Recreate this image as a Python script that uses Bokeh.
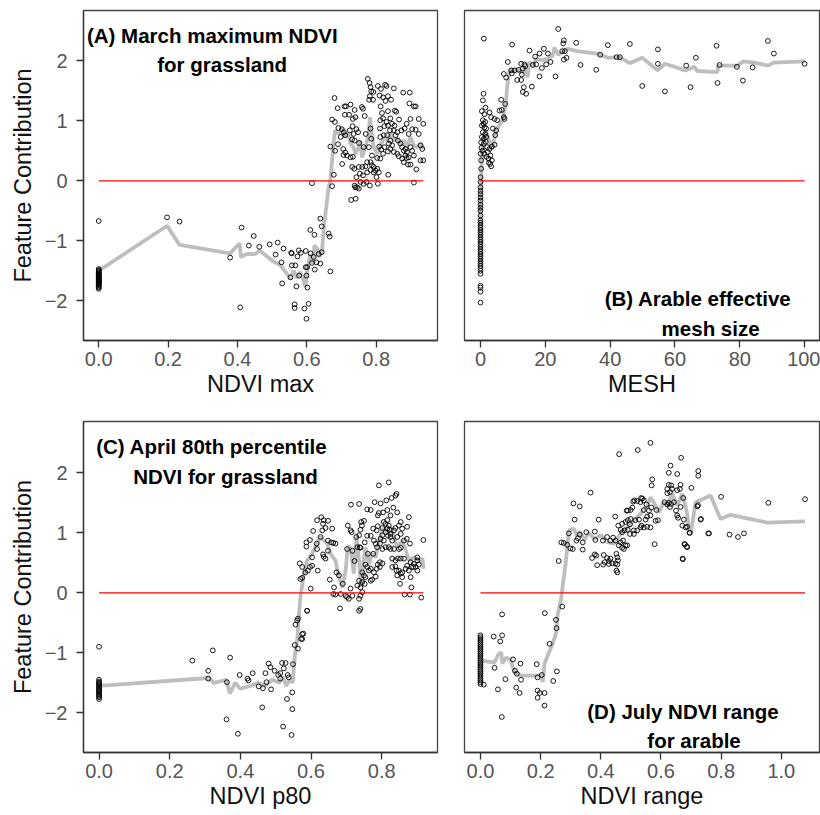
from bokeh.plotting import figure
from bokeh.layouts import gridplot
from bokeh.models import Range1d, FixedTicker, Label
from bokeh.embed import file_html
from bokeh.resources import INLINE

# ---------------- Panel A: March maximum NDVI for grassland ----------------
a_points = [
    (0, -0.67), (0, -1.47), (0, -1.49), (0, -1.50), (0, -1.52), (0, -1.53), (0, -1.55), (0, -1.56),
    (0, -1.57), (0, -1.58), (0, -1.59), (0, -1.60), (0, -1.61), (0, -1.62), (0, -1.63), (0, -1.64),
    (0, -1.65), (0, -1.66), (0, -1.67), (0, -1.68), (0, -1.69), (0, -1.70), (0, -1.71), (0, -1.72),
    (0, -1.73), (0, -1.74), (0, -1.76), (0, -1.78), (0, -1.80),
    (0.197, -0.61), (0.233, -0.68), (0.379, -1.28), (0.408, -2.11), (0.412, -0.78), (0.433, -1.08),
    (0.447, -0.92), (0.463, -1.10), (0.493, -1.06), (0.516, -1.03), (0.510, -1.23), (0.533, -1.13),
    (0.527, -1.36), (0.529, -1.71), (0.555, -1.20), (0.557, -1.21), (0.577, -1.16), (0.583, -1.20),
    (0.597, -1.17), (0.573, -1.26), (0.557, -1.41), (0.567, -1.41), (0.553, -1.61), (0.578, -1.58),
    (0.599, -1.58), (0.597, -1.44), (0.570, -1.76), (0.602, -1.78), (0.639, -0.63), (0.643, -0.76),
    (0.610, -0.82), (0.622, -0.90), (0.663, -0.88), (0.666, -0.93), (0.611, -1.21), (0.620, -1.27),
    (0.634, -1.22), (0.643, -1.19), (0.615, -1.37), (0.628, -1.36), (0.639, -1.38), (0.623, -1.48),
    (0.601, -1.44), (0.565, -2.06), (0.565, -2.12), (0.593, -2.13), (0.605, -2.05), (0.599, -2.30),
    (0.668, -1.51), (0.615, -0.04),
    (0.776, 1.70), (0.781, 1.63), (0.784, 1.56), (0.786, 1.49), (0.792, 1.48), (0.782, 1.41),
    (0.791, 1.35), (0.780, 1.35), (0.805, 1.58), (0.814, 1.53), (0.826, 1.60), (0.830, 1.58),
    (0.851, 1.54), (0.810, 1.42), (0.820, 1.39), (0.834, 1.41), (0.843, 1.35), (0.827, 1.33),
    (0.878, 1.47), (0.897, 1.47), (0.896, 1.29), (0.909, 1.24), (0.914, 1.24), (0.680, 1.38),
    (0.689, 1.21), (0.709, 1.24), (0.713, 1.24), (0.726, 1.27), (0.738, 1.18), (0.759, 1.23),
    (0.762, 1.20), (0.710, 1.10), (0.722, 1.10), (0.733, 1.03), (0.740, 1.06), (0.767, 1.08),
    (0.673, 1.02), (0.681, 0.98), (0.691, 0.88), (0.701, 0.86), (0.707, 0.81), (0.698, 0.73),
    (0.711, 0.76), (0.724, 0.84), (0.732, 0.91), (0.743, 0.86), (0.735, 0.78), (0.748, 0.81),
    (0.731, 0.69), (0.738, 0.67), (0.751, 0.63), (0.784, 0.87), (0.770, 0.78), (0.786, 0.70),
    (0.813, 1.24), (0.817, 1.13), (0.834, 1.16), (0.820, 1.04), (0.812, 1.01), (0.830, 0.98),
    (0.841, 1.04), (0.854, 1.17), (0.858, 1.15), (0.866, 1.02), (0.824, 0.91), (0.834, 0.92),
    (0.846, 0.95), (0.853, 0.92), (0.811, 0.87), (0.840, 0.84), (0.851, 0.84), (0.861, 0.81),
    (0.873, 0.84), (0.888, 0.95), (0.899, 1.03), (0.923, 1.03), (0.936, 0.95), (0.882, 0.87),
    (0.904, 0.86), (0.914, 0.85), (0.894, 0.78), (0.923, 0.78), (0.928, 0.59), (0.933, 0.53),
    (0.936, 0.34), (0.928, 0.34), (0.916, 0.19), (0.812, 0.73), (0.822, 0.76), (0.832, 0.76),
    (0.841, 0.67), (0.837, 0.62), (0.846, 0.59), (0.856, 0.76), (0.863, 0.67), (0.870, 0.62),
    (0.875, 0.56), (0.880, 0.50), (0.885, 0.53), (0.889, 0.48), (0.899, 0.56), (0.904, 0.50),
    (0.909, 0.42), (0.894, 0.39), (0.885, 0.42), (0.875, 0.37), (0.861, 0.45), (0.851, 0.48),
    (0.841, 0.53), (0.824, 0.56), (0.815, 0.52), (0.809, 0.57), (0.820, 0.45), (0.834, 0.49),
    (0.865, 0.41), (0.880, 0.31), (0.892, 0.27), (0.899, 0.27), (0.888, 0.38), (0.668, 0.57),
    (0.682, 0.50), (0.690, 0.61), (0.705, 0.53), (0.711, 0.47), (0.706, 0.43), (0.716, 0.42),
    (0.726, 0.39), (0.733, 0.40), (0.702, 0.28), (0.731, 0.23), (0.737, 0.20), (0.750, 0.23),
    (0.760, 0.23), (0.769, 0.24), (0.774, 0.31), (0.784, 0.31), (0.788, 0.26), (0.793, 0.23),
    (0.798, 0.17), (0.803, 0.20), (0.808, 0.14), (0.784, 0.18), (0.793, 0.14), (0.801, 0.06),
    (0.774, 0.14), (0.762, 0.09), (0.753, 0.12), (0.743, 0.06), (0.755, -0.02), (0.764, -0.05),
    (0.772, -0.02), (0.782, -0.08), (0.738, -0.08), (0.745, -0.11), (0.750, -0.13), (0.740, -0.11),
    (0.728, -0.32), (0.741, -0.30), (0.678, 0.10), (0.673, -0.09), (0.805, -0.05), (0.835, 0.10),
    (0.909, -0.03), (0.764, 0.56), (0.779, 0.56), (0.788, 0.42), (0.803, 0.38), (0.812, 0.37),
]
a_line = [
    (0, -1.50), (0.197, -0.75), (0.233, -1.07), (0.379, -1.21), (0.406, -1.04), (0.410, -1.27),
    (0.427, -1.22), (0.451, -1.22), (0.464, -1.16), (0.500, -1.33), (0.524, -1.41), (0.543, -1.55),
    (0.553, -1.63), (0.562, -1.50), (0.572, -1.62), (0.581, -1.52), (0.591, -1.66), (0.596, -1.77),
    (0.601, -1.50), (0.610, -1.22), (0.618, -1.38), (0.622, -1.08), (0.630, -1.13), (0.637, -1.27),
    (0.644, -1.16), (0.650, -0.72), (0.656, -0.45), (0.662, -0.15), (0.668, 0.01), (0.673, 0.34),
    (0.678, 0.67), (0.682, 0.84), (0.692, 0.78), (0.702, 0.87), (0.711, 0.73), (0.721, 0.78),
    (0.726, 0.62), (0.735, 0.56), (0.740, 0.45), (0.750, 0.56), (0.755, 0.67), (0.759, 0.39),
    (0.769, 0.56), (0.779, 0.78), (0.782, 1.06), (0.786, 0.84), (0.793, 0.56), (0.803, 0.45),
    (0.812, 0.56), (0.822, 0.73), (0.832, 0.67), (0.841, 0.78), (0.851, 0.67), (0.861, 0.70),
    (0.870, 0.62), (0.880, 0.67), (0.889, 0.56), (0.899, 0.73), (0.909, 0.59), (0.918, 0.56),
    (0.928, 0.62), (0.937, 0.53),
]
a_xticks = [0.0, 0.2, 0.4, 0.6, 0.8]
a_xlabels = ["0.0", "0.2", "0.4", "0.6", "0.8"]

# ---------------- Panel B: Arable effective mesh size ----------------
b_points = [
    (0, 0.06), (0, -0.02), (0, -0.11), (0, -0.17), (0, -0.22), (0, -0.28), (0, -0.33), (0, -0.40),
    (0, -0.45), (0, -0.50), (0, -0.58), (0, -0.66), (0, -0.70), (0, -0.74), (0, -0.78), (0, -0.82),
    (0, -0.86), (0, -0.90), (0, -0.94), (0, -0.98), (0, -1.02), (0, -1.06), (0, -1.10), (0, -1.14),
    (0, -1.18), (0, -1.22), (0, -1.26), (0, -1.30), (0, -1.34), (0, -1.38), (0, -1.42), (0, -1.46),
    (0, -1.50), (0, -1.55), (0, -1.75), (0, -1.78), (0, -1.85), (0, -2.03),
    (0, 0.45), (0.2, 0.34), (0.2, 0.20), (0.2, 0.64), (0.41, 0.73), (0.41, 0.92), (0.41, 1.16),
    (0.72, 1.34), (0.93, 1.45), (1.03, 2.37), (1.54, 1.22), (2.78, 1.14), (1.23, 1.11), (3.29, 1.06),
    (4.32, 1.03), (0.72, 1.01), (1.44, 0.98), (1.23, 0.89), (1.75, 0.87), (0.72, 0.81), (1.44, 0.78),
    (1.03, 0.70), (1.75, 0.73), (1.03, 0.62), (2.05, 0.56), (2.78, 0.53), (3.50, 0.57), (4.32, 0.60),
    (3.81, 0.87), (4.83, 0.84), (4.53, 0.76), (2.26, 0.48), (3.08, 0.42), (2.47, 0.37), (3.50, 0.34),
    (3.29, 0.24), (0.3, 0.55), (0.6, 0.50), (1.2, 0.45), (1.8, 0.40), (2.6, 0.30), (3.0, 0.28),
    (0.9, 0.95), (1.6, 0.65),
    (5.14, 1.01), (5.86, 1.17), (6.38, 1.35), (7.20, 1.06), (7.40, 1.03), (6.58, 1.18), (7.61, 1.28),
    (7.20, 1.78), (7.92, 1.72), (9.46, 1.84), (9.67, 1.79), (8.43, 1.98), (9.77, 2.27), (10.49, 1.84),
    (11.73, 1.85), (11.32, 1.68), (12.55, 1.68), (12.76, 1.77), (13.06, 1.87), (13.58, 1.94),
    (12.55, 1.95), (13.37, 1.56), (13.06, 1.48), (14.09, 1.45), (13.78, 1.91), (15.12, 2.17),
    (15.84, 1.57), (16.15, 1.93), (16.87, 2.07), (17.18, 1.94), (18.21, 2.12), (18.21, 1.74),
    (18.93, 1.88), (19.55, 2.20), (20.26, 1.94), (20.78, 2.12), (21.60, 1.98), (23.15, 1.74),
    (23.97, 2.53), (25.72, 2.34), (25.52, 2.29), (25.21, 2.16), (26.03, 2.16), (25.72, 2.02),
    (26.54, 2.05), (29.53, 2.30), (30.86, 1.93), (35.70, 1.85), (36.93, 2.10), (39.30, 2.26),
    (41.98, 2.06), (43.00, 2.06), (46.09, 2.28), (49.90, 1.58), (54.73, 2.19), (54.73, 1.95),
    (56.89, 1.49), (63.48, 1.92), (64.81, 1.56), (66.46, 2.05), (72.84, 2.25), (73.15, 1.63),
    (73.76, 1.93), (79.11, 1.90), (80.97, 1.67), (83.95, 1.89), (88.68, 2.33), (90.53, 2.12),
    (100.0, 1.95),
]
b_line = [
    (0, -1.40), (0, -0.60), (0.2, 0.05), (0.5, 0.45), (0.9, 0.70), (1.5, 0.85), (2.2, 0.75),
    (3.0, 0.62), (3.6, 0.52), (4.3, 0.73), (5.35, 0.89), (6.9, 1.01), (7.9, 1.34), (8.2, 1.56),
    (8.95, 1.84), (11.5, 1.85), (13.0, 1.80), (14.1, 1.89), (14.5, 1.72), (15.1, 1.98), (16.2, 1.92),
    (17.2, 2.03), (18.7, 2.01), (20.8, 2.03), (22.3, 2.09), (22.8, 2.22), (24.0, 2.10), (26.8, 2.20),
    (29.8, 2.16), (36.0, 2.12), (39.3, 2.05), (42.7, 2.06), (46.1, 1.96), (49.9, 2.05), (54.6, 1.84),
    (56.9, 1.95), (63.3, 1.84), (65.9, 1.90), (66.9, 1.83), (73.1, 1.81), (73.3, 1.92), (79.2, 1.92),
    (81.1, 1.99), (84.4, 1.97), (88.7, 1.92), (90.5, 1.97), (100.0, 1.99),
]
b_xticks = [0, 20, 40, 60, 80, 100]
b_xlabels = ["0", "20", "40", "60", "80", "100"]

# ---------------- Panel C: April 80th percentile NDVI for grassland ----------------
c_points = [
    (0, -0.90), (0, -1.45), (0, -1.48), (0, -1.50), (0, -1.52), (0, -1.54), (0, -1.56), (0, -1.58),
    (0, -1.60), (0, -1.62), (0, -1.64), (0, -1.66), (0, -1.68), (0, -1.70), (0, -1.72), (0, -1.74),
    (0, -1.77),
    (0.264, -1.13), (0.309, -1.30), (0.309, -1.43), (0.322, -0.96), (0.371, -1.08), (0.362, -1.49),
    (0.361, -2.11), (0.393, -2.35), (0.398, -1.37), (0.420, -1.43), (0.423, -1.46), (0.435, -1.34),
    (0.452, -1.56), (0.464, -1.59), (0.462, -1.91), (0.471, -1.34), (0.474, -1.49), (0.480, -1.18),
    (0.485, -1.24), (0.487, -1.61), (0.497, -1.30), (0.507, -1.37), (0.513, -1.34), (0.518, -1.17),
    (0.523, -1.26), (0.513, -1.43), (0.528, -1.17), (0.534, -1.37), (0.537, -1.41), (0.521, -2.23),
    (0.532, -1.77), (0.547, -1.66), (0.547, -1.94), (0.545, -2.37), (0.549, -1.19), (0.554, -0.87),
    (0.563, -0.93), (0.561, -0.46), (0.575, -0.77), (0.575, -0.69), (0.589, -0.30),
    (0.792, 1.79), (0.820, 1.84), (0.842, 1.65), (0.839, 1.62), (0.828, 1.58), (0.813, 1.54),
    (0.797, 1.49), (0.780, 1.51), (0.713, 1.47), (0.736, 1.48), (0.759, 1.39), (0.769, 1.38),
    (0.833, 1.42), (0.816, 1.38), (0.804, 1.34), (0.792, 1.33), (0.789, 1.29), (0.844, 1.34),
    (0.825, 1.29), (0.617, 1.21), (0.629, 1.26), (0.636, 1.21), (0.648, 1.20), (0.634, 1.15),
    (0.641, 1.08), (0.632, 1.04), (0.660, 1.07), (0.606, 1.03), (0.587, 0.84), (0.597, 0.88),
    (0.587, 0.77), (0.616, 0.82), (0.617, 0.73), (0.627, 0.93), (0.648, 0.87), (0.657, 0.84),
    (0.663, 0.83), (0.669, 0.82), (0.648, 0.70), (0.634, 0.64), (0.641, 0.57), (0.636, 0.60),
    (0.603, 0.59), (0.597, 0.43), (0.603, 0.45), (0.568, 0.49), (0.575, 0.43), (0.584, 0.34),
    (0.591, 0.37), (0.619, 0.37), (0.570, 0.23), (0.575, 0.25), (0.599, 0.07), (0.589, -0.30),
    (0.563, -0.43), (0.556, -0.53), (0.578, -0.68), (0.572, -0.77), (0.653, 0.22), (0.665, 0.09),
    (0.663, -0.02), (0.690, 0.15), (0.684, -0.02), (0.682, -0.26), (0.672, 0.34), (0.679, 0.29),
    (0.702, 0.73), (0.717, 0.70), (0.723, 0.53), (0.704, 1.12), (0.712, 1.04), (0.715, 1.01),
    (0.728, 0.93), (0.736, 0.96), (0.740, 1.05), (0.744, 1.12), (0.750, 1.20), (0.742, 1.18),
    (0.738, 0.76), (0.752, 0.84), (0.740, 0.75), (0.731, 0.76), (0.759, 0.95), (0.769, 0.95),
    (0.761, 0.65), (0.776, 0.65), (0.754, 0.47), (0.759, 0.43), (0.764, 0.37), (0.769, 0.40),
    (0.745, 0.34), (0.750, 0.29), (0.754, 0.26), (0.736, 0.20), (0.745, 0.18), (0.752, 0.15),
    (0.740, 0.09), (0.731, 0.12), (0.712, 0.07), (0.698, -0.05), (0.702, -0.07), (0.707, -0.10),
    (0.717, -0.05), (0.740, -0.05), (0.736, -0.10), (0.745, 0.01), (0.740, -0.27), (0.736, -0.30),
    (0.669, -0.03), (0.778, 0.87), (0.783, 0.82), (0.787, 0.76), (0.795, 0.82), (0.797, 0.90),
    (0.802, 0.96), (0.776, 1.07), (0.786, 1.04), (0.789, 1.11), (0.802, 1.08), (0.806, 1.18),
    (0.811, 1.15), (0.816, 1.21), (0.820, 1.12), (0.816, 1.07), (0.823, 1.05), (0.825, 0.98),
    (0.811, 1.01), (0.818, 0.95), (0.825, 0.93), (0.835, 1.04), (0.839, 1.08), (0.830, 0.87),
    (0.806, 0.87), (0.802, 0.73), (0.811, 0.76), (0.820, 0.76), (0.825, 0.73), (0.835, 0.73),
    (0.849, 0.73), (0.854, 0.75), (0.854, 1.18), (0.849, 1.12), (0.858, 1.07), (0.854, 0.98),
    (0.844, 0.93), (0.863, 0.87), (0.871, 0.90), (0.872, 1.10), (0.877, 1.26), (0.880, 0.82),
    (0.795, 0.51), (0.789, 0.47), (0.802, 0.49), (0.795, 0.43), (0.786, 0.40), (0.778, 0.34),
    (0.783, 0.27), (0.769, 0.20), (0.773, 0.22), (0.882, 0.51), (0.891, 0.48), (0.901, 0.54),
    (0.896, 0.43), (0.901, 0.37), (0.889, 0.43), (0.905, 0.47), (0.830, 0.57), (0.839, 0.54),
    (0.846, 0.57), (0.854, 0.57), (0.863, 0.57), (0.830, 0.43), (0.839, 0.44), (0.842, 0.37),
    (0.849, 0.37), (0.854, 0.32), (0.858, 0.34), (0.844, 0.29), (0.858, 0.26), (0.868, 0.40),
    (0.872, 0.45), (0.877, 0.37), (0.882, 0.26), (0.884, 0.43), (0.852, 0.15), (0.865, -0.03),
    (0.880, -0.03), (0.884, 0.09), (0.912, -0.08), (0.918, 0.88), (0.901, 0.59),
]
c_line = [
    (0, -1.55), (0.31, -1.42), (0.325, -1.50), (0.36, -1.45), (0.37, -1.68), (0.385, -1.50),
    (0.40, -1.60), (0.43, -1.55), (0.45, -1.50), (0.47, -1.55), (0.49, -1.45), (0.51, -1.50),
    (0.52, -1.40), (0.53, -1.55), (0.54, -1.45), (0.548, -1.50), (0.555, -1.00), (0.561, -0.79),
    (0.566, -0.35), (0.570, -0.07), (0.580, 0.32), (0.589, 0.54), (0.603, 0.65), (0.617, 0.82),
    (0.627, 0.93), (0.636, 0.87), (0.646, 0.82), (0.655, 0.65), (0.669, 0.54), (0.679, 0.26),
    (0.688, 0.09), (0.698, 0.37), (0.704, 0.76), (0.712, 0.76), (0.721, 0.32), (0.729, 0.93),
    (0.735, 0.59), (0.742, 0.09), (0.748, 0.48), (0.754, 0.76), (0.764, 0.48), (0.773, 0.65),
    (0.783, 0.59), (0.792, 0.87), (0.806, 1.09), (0.816, 0.98), (0.825, 1.09), (0.835, 0.93),
    (0.844, 0.76), (0.858, 0.87), (0.868, 0.71), (0.877, 0.54), (0.891, 0.59), (0.905, 0.54),
    (0.915, 0.57), (0.919, 0.40),
]
c_xticks = [0.0, 0.2, 0.4, 0.6, 0.8]
c_xlabels = ["0.0", "0.2", "0.4", "0.6", "0.8"]

# ---------------- Panel D: July NDVI range for arable ----------------
d_points = [
    (0, -0.71), (0, -0.74), (0, -0.77), (0, -0.80), (0, -0.83), (0, -0.86), (0, -0.89), (0, -0.92),
    (0, -0.95), (0, -0.98), (0, -1.01), (0, -1.04), (0, -1.07), (0, -1.10), (0, -1.13), (0, -1.16),
    (0, -1.19), (0, -1.22), (0, -1.25), (0, -1.28), (0, -1.31), (0, -1.34), (0, -1.37), (0, -1.40),
    (0, -1.43), (0, -1.46), (0, -1.49), (0, -1.52),
    (0.072, -0.36), (0.044, -0.73), (0.072, -0.71), (0.066, -0.81), (0.011, -1.53), (0.047, -1.25),
    (0.058, -1.61), (0.071, -2.07), (0.108, -1.11), (0.133, -1.18), (0.115, -1.30), (0.121, -1.35),
    (0.083, -1.44), (0.135, -1.45), (0.119, -1.58), (0.130, -1.67), (0.187, -1.19), (0.190, -1.41),
    (0.204, -1.37), (0.190, -1.63), (0.197, -1.67), (0.190, -1.75), (0.213, -1.67), (0.213, -1.88),
    (0.214, -0.34), (0.230, -0.85), (0.251, -0.45), (0.253, -0.59), (0.254, -1.31), (0.242, -1.47),
    (0.272, -0.23),
    (0.565, 2.50), (0.523, 2.38), (0.461, 2.31), (0.667, 2.25), (0.632, 2.12), (0.724, 2.03),
    (0.724, 1.95), (0.626, 2.00), (0.654, 1.98), (0.571, 1.89), (0.569, 1.79), (0.366, 1.67),
    (0.626, 1.80), (0.634, 1.79), (0.621, 1.73), (0.637, 1.73), (0.630, 1.68), (0.621, 1.66),
    (0.665, 1.80), (0.663, 1.73), (0.654, 1.71), (0.701, 1.75), (0.674, 1.58), (0.612, 1.51),
    (0.626, 1.50), (0.634, 1.48), (0.621, 1.47), (0.630, 1.43), (0.643, 1.51), (0.665, 1.43),
    (0.650, 1.37), (0.654, 1.29), (0.657, 1.25), (0.721, 1.44), (0.732, 1.22), (0.676, 1.22),
    (0.671, 1.12), (0.682, 1.09), (0.687, 1.10), (0.695, 1.00), (0.678, 0.81), (0.687, 0.76),
    (0.672, 0.57), (0.757, 0.99), (0.309, 1.49), (0.330, 1.44), (0.313, 1.22), (0.393, 1.22),
    (0.448, 1.27), (0.294, 0.99), (0.269, 0.84), (0.277, 0.83), (0.288, 0.80), (0.299, 0.74),
    (0.307, 0.73), (0.319, 0.87), (0.324, 0.91), (0.330, 0.97), (0.340, 0.84), (0.340, 0.72),
    (0.352, 1.01), (0.380, 1.02), (0.382, 0.88), (0.407, 0.87), (0.260, 0.53), (0.371, 0.58),
    (0.380, 0.64), (0.385, 0.62), (0.388, 0.46), (0.410, 0.63), (0.413, 0.51), (0.408, 0.47),
    (0.421, 0.58), (0.427, 0.53), (0.432, 0.57), (0.427, 0.48), (0.438, 0.49), (0.421, 0.93),
    (0.432, 0.87), (0.441, 0.92), (0.449, 0.87), (0.452, 0.65), (0.455, 0.59), (0.457, 0.54),
    (0.449, 0.49), (0.455, 0.47), (0.452, 0.37), (0.455, 0.34), (0.458, 1.12), (0.466, 1.05),
    (0.471, 1.01), (0.479, 1.04), (0.490, 1.05), (0.497, 0.98), (0.471, 1.15), (0.482, 1.18),
    (0.490, 1.21), (0.499, 1.23), (0.497, 1.14), (0.515, 1.21), (0.527, 1.22), (0.510, 1.04),
    (0.521, 1.04), (0.532, 1.09), (0.535, 1.12), (0.543, 1.09), (0.554, 1.10), (0.565, 1.09),
    (0.582, 1.20), (0.590, 1.21), (0.460, 0.79), (0.466, 0.84), (0.474, 0.87), (0.482, 0.79),
    (0.488, 0.79), (0.477, 0.73), (0.471, 0.75), (0.510, 0.98), (0.486, 1.37), (0.490, 1.37),
    (0.499, 1.38), (0.505, 1.42), (0.508, 1.52), (0.512, 1.54), (0.521, 1.53), (0.532, 1.51),
    (0.538, 1.57), (0.543, 1.54), (0.552, 1.47), (0.543, 1.38), (0.560, 1.37), (0.568, 1.42),
    (0.565, 1.29), (0.554, 1.27), (0.549, 1.22), (0.585, 1.38), (0.579, 0.81), (0.534, 1.58),
    (1.079, 1.56), (0.957, 1.50), (0.800, 1.60), (0.760, 0.99), (0.828, 0.97), (0.856, 0.93),
    (0.876, 0.99), (0.733, 1.23), (0.723, 1.46), (0.696, 1.00), (0.673, 0.56), (0.680, 0.81),
    (0.686, 0.77),
]
d_line = [
    (0, -1.13), (0.047, -1.16), (0.058, -1.04), (0.069, -0.99), (0.073, -1.18), (0.085, -1.08),
    (0.10, -1.12), (0.113, -1.32), (0.135, -1.38), (0.202, -1.38), (0.207, -1.49), (0.213, -1.18),
    (0.224, -1.04), (0.240, -0.85), (0.252, -0.66), (0.257, -0.35), (0.268, -0.10), (0.283, 0.48),
    (0.294, 1.04), (0.310, 1.07), (0.320, 0.95), (0.330, 1.02), (0.345, 0.88), (0.360, 1.00),
    (0.380, 0.90), (0.400, 0.96), (0.420, 0.85), (0.443, 0.82), (0.465, 0.98), (0.488, 1.09),
    (0.510, 1.20), (0.532, 1.32), (0.554, 1.43), (0.565, 1.59), (0.576, 1.51), (0.593, 1.34),
    (0.610, 1.51), (0.621, 1.46), (0.637, 1.65), (0.654, 1.46), (0.671, 1.65), (0.687, 1.32),
    (0.693, 1.05), (0.700, 1.01), (0.715, 1.51), (0.743, 1.57), (0.765, 1.62), (0.798, 1.23),
    (0.831, 1.30), (0.954, 1.17), (1.079, 1.19),
]
d_xticks = [0.0, 0.2, 0.4, 0.6, 0.8, 1.0]
d_xlabels = ["0.0", "0.2", "0.4", "0.6", "0.8", "1.0"]

y_ticks = [-2, -1, 0, 1, 2]
y_labels = ["\u22122", "\u22121", "0", "1", "2"]

FONT = "Liberation Sans"


def panel(points, line, xr, yr, xticks, xlabels, xlabel, left_axis, width, height,
          mbl, mbr, mbt, mbb, titles, label_standoff):
    p = figure(width=width, height=height, x_range=Range1d(*xr), y_range=Range1d(*yr),
               output_backend="svg", toolbar_location=None,
               y_axis_location="left" if left_axis else None,
               min_border_left=mbl, min_border_right=mbr, min_border_top=mbt,
               min_border_bottom=mbb)
    p.xgrid.visible = False
    p.ygrid.visible = False
    p.outline_line_color = "#444444"
    p.outline_line_width = 1.3
    p.background_fill_color = "white"
    p.border_fill_color = "white"

    axes = [p.xaxis[0]] + ([p.yaxis[0]] if left_axis else [])
    for ax in axes:
        ax.axis_line_color = "#333333"
        ax.axis_line_width = 1.3
        ax.major_tick_line_color = "#333333"
        ax.major_tick_line_width = 1.3
        ax.major_tick_out = 7
        ax.major_tick_in = 0
        ax.minor_tick_line_color = None
        ax.major_label_text_font = FONT
        ax.major_label_text_font_size = "20px"
        ax.major_label_text_color = "#555555"
        ax.axis_label_text_font = FONT
        ax.axis_label_text_font_size = "23.5px"
        ax.axis_label_text_font_style = "normal"
        ax.axis_label_text_color = "#111111"

    xa = p.xaxis[0]
    xa.ticker = FixedTicker(ticks=xticks)
    xa.major_label_overrides = {t: l for t, l in zip(xticks, xlabels)}
    xa.axis_label = xlabel
    xa.major_label_standoff = 4
    xa.axis_label_standoff = label_standoff

    if left_axis:
        ya = p.yaxis[0]
        ya.ticker = FixedTicker(ticks=y_ticks)
        ya.major_label_overrides = {t: l for t, l in zip(y_ticks, y_labels)}
        ya.axis_label = "Feature Contribution"
        ya.major_label_standoff = 9
        ya.axis_label_standoff = 6

    xs = [pt[0] for pt in points]
    ys = [pt[1] for pt in points]
    lx = [pt[0] for pt in line]
    ly = [pt[1] for pt in line]

    p.line(lx, ly, line_color="#bebebe", line_width=3.8)
    p.scatter(xs, ys, marker="circle", size=4.8, fill_color=None,
              line_color="black", line_width=0.9)
    p.line([min(xs), max(xs)], [0, 0], line_color="red", line_width=1.2)

    for (tx, ty, txt, align) in titles:
        p.add_layout(Label(x=tx, y=ty, text=txt, text_align=align,
                           text_baseline="alphabetic", text_font=FONT,
                           text_font_size="20.5px", text_font_style="bold",
                           text_color="black"))
    return p


yA = (-2.662, 2.838)
yC = (-2.662, 2.855)

pA = panel(a_points, a_line, (-0.044, 0.977), yA, a_xticks, a_xlabels, "NDVI max", True,
           450, 406, 83, 13, 10, 66,
           [(-0.034, 2.42, "(A) March maximum NDVI", "left"),
            (0.356, 1.94, "for grassland", "center")], 2)
pB = panel(b_points, b_line, (-4.94, 104.6), yA, b_xticks, b_xlabels, "MESH", False,
           370, 406, 14, 1, 10, 66,
           [(38.3, -1.97, "(B) Arable effective", "left"),
            (71.0, -2.46, "mesh size", "center")], 2)
pC = panel(c_points, c_line, (-0.044, 0.958), yC, c_xticks, c_xlabels, "NDVI p80", True,
           450, 409, 83, 13, 15, 63,
           [(-0.008, 2.43, "(C) April 80th percentile", "left"),
            (0.358, 1.93, "NDVI for grassland", "center")], 2)
pD = panel(d_points, d_line, (-0.053, 1.127), yC, d_xticks, d_xlabels, "NDVI range", False,
           370, 409, 14, 1, 15, 63,
           [(0.355, -1.98, "(D) July NDVI range", "left"),
            (0.710, -2.46, "for arable", "center")], 2)

grid = gridplot([[pA, pB], [pC, pD]], toolbar_location=None)

with open("out.html", "w") as f:
    f.write(file_html(grid, INLINE))
